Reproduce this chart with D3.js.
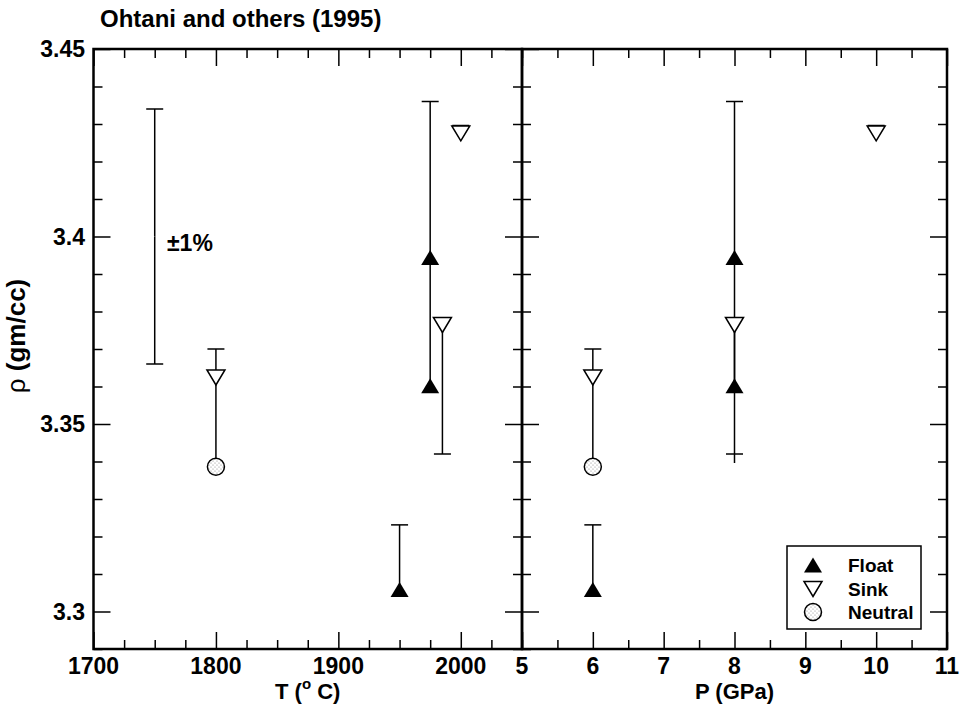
<!DOCTYPE html>
<html>
<head>
<meta charset="utf-8">
<script src="https://cdn.jsdelivr.net/npm/d3@7"></script>
<style>
  body { margin: 0; background: #fff; }
  text { font-family: "Liberation Sans", Arial, Helvetica, sans-serif; font-weight: bold; fill: #000; }
</style>
</head>
<body>
<svg id="chart" width="968" height="714"></svg>
<script>
// ---- data ----
const tTicks = [1700, 1800, 1900, 2000];
const pTicks = [5, 6, 7, 8, 9, 10, 11];
const rhoTicks = [3.3, 3.35, 3.4, 3.45];

const floatT = [1950, 1975, 1975];
const floatP = [6, 8, 8];
const floatRho = [3.3059, 3.3944, 3.3602];

const sinkT = [1800, 1985, 2000];
const sinkP = [6, 8, 10];
const sinkRho = [3.3624, 3.3764, 3.4275];

const neutralT = [1800];
const neutralP = [6];
const neutralRho = [3.3386];

// error bars, drawn from -> to, with a cap at the "to" end when capped
const barT = [1800, 1950, 1975, 1985, 2000];
const barTFrom = [3.3386, 3.3059, 3.3602, 3.3764, 3.4262];
const barTTo = [3.37, 3.3231, 3.436, 3.342, 3.4296];
const barTCap = [true, true, true, true, true];

const barP = [6, 6, 8, 8, 8, 10];
const barPFrom = [3.3386, 3.3059, 3.3602, 3.3764, 3.342, 3.4262];
const barPTo = [3.37, 3.3231, 3.436, 3.342, 3.3396, 3.4296];
const barPCap = [true, true, true, true, false, true];

// +-1% reference bar
const refT = 1750, refRho = 3.4, refPct = 0.01;

const legendLabels = ['Float', 'Sink', 'Neutral'];

// ---- layout ----
const svg = d3.select('#chart');
const yTop = 49, yBottom = 649, xLeft = 93.5, xMid = 522, xRight = 947;
const majorLen = 17, minorLen = 9;

const xT = d3.scaleLinear().domain([1700, 2050]).range([xLeft, xMid]);
const xP = d3.scaleLinear().domain([5, 11]).range([xMid, xRight]);
const y = d3.scaleLinear().domain([3.29, 3.45]).range([yBottom, yTop]);

const defs = svg.append('defs');
const pat = defs.append('pattern').attr('id', 'dots')
  .attr('width', 4).attr('height', 4).attr('patternUnits', 'userSpaceOnUse');
pat.append('rect').attr('width', 4).attr('height', 4).attr('fill', '#fff');
pat.append('circle').attr('cx', 1).attr('cy', 1).attr('r', 0.6).attr('fill', '#888');
pat.append('circle').attr('cx', 3).attr('cy', 3).attr('r', 0.6).attr('fill', '#888');

const minorRho = d3.range(3.29, 3.4501, 0.01).map(v => +v.toFixed(2)).filter(v => rhoTicks.indexOf(v) < 0);
const minorT = d3.range(1700, 2051, 25).filter(v => v % 100 !== 0);
const minorP = d3.range(5, 11.01, 0.5).filter(v => v % 1 !== 0);

function ticks(axisFn, scale, vals, len, transform) {
  const g = svg.append('g').attr('transform', transform)
    .call(axisFn(scale).tickValues(vals).tickSize(len).tickFormat(''));
  g.select('.domain').remove();
  g.selectAll('line').attr('stroke', '#000').attr('stroke-width', 1.5);
  return g;
}

function panel(x, xMajor, xMinor, x0, x1) {
  // bottom / top ticks (inward)
  ticks(d3.axisBottom, x, xMajor, -majorLen, `translate(0,${yBottom})`);
  ticks(d3.axisBottom, x, xMinor, -minorLen, `translate(0,${yBottom})`);
  ticks(d3.axisTop, x, xMajor, -majorLen, `translate(0,${yTop})`);
  ticks(d3.axisTop, x, xMinor, -minorLen, `translate(0,${yTop})`);
  // left / right ticks (inward)
  ticks(d3.axisLeft, y, rhoTicks, -majorLen, `translate(${x0},0)`);
  ticks(d3.axisLeft, y, minorRho, -minorLen, `translate(${x0},0)`);
  ticks(d3.axisRight, y, rhoTicks, -majorLen, `translate(${x1},0)`);
  ticks(d3.axisRight, y, minorRho, -minorLen, `translate(${x1},0)`);
  // frame
  svg.append('rect').attr('x', x0).attr('y', yTop)
    .attr('width', x1 - x0).attr('height', yBottom - yTop)
    .attr('fill', 'none').attr('stroke', '#000').attr('stroke-width', 2.5);
  // tick labels
  svg.append('g').selectAll('text').data(xMajor).join('text')
    .attr('x', d => x(d)).attr('y', 674)
    .attr('text-anchor', 'middle').attr('font-size', 23)
    .text(d => d);
}

panel(xT, tTicks, minorT, xLeft, xMid);
panel(xP, pTicks, minorP, xMid, xRight);

// y tick labels
svg.append('g').selectAll('text').data(rhoTicks).join('text')
  .attr('x', 85).attr('y', d => y(d) + 8)
  .attr('text-anchor', 'end').attr('font-size', 23)
  .text(d => d3.format('')(d));

// title and axis titles
svg.append('text').attr('x', 100).attr('y', 27).attr('font-size', 24)
  .text('Ohtani and others (1995)');

const tTitle = svg.append('text').attr('x', (xLeft + xMid) / 2).attr('y', 699)
  .attr('text-anchor', 'middle').attr('font-size', 22);
tTitle.append('tspan').text('T (');
tTitle.append('tspan').attr('font-size', 15).attr('dy', -10).text('o');
tTitle.append('tspan').attr('dy', 10).text(' C)');

svg.append('text').attr('x', (xMid + xRight) / 2).attr('y', 699)
  .attr('text-anchor', 'middle').attr('font-size', 22)
  .text('P (GPa)');

const yTitle = svg.append('text')
  .attr('transform', 'translate(25,336) rotate(-90)')
  .attr('text-anchor', 'middle').attr('font-size', 26);
yTitle.append('tspan').attr('font-weight', 'normal').text('\u03c1');
yTitle.append('tspan').text(' (gm/cc)');

// ---- marks ----
const capW = 8.5;
function bars(x, xs, from, to, caps) {
  const g = svg.append('g').attr('stroke', '#000').attr('stroke-width', 1.5);
  xs.forEach((xv, i) => {
    g.append('line').attr('x1', x(xv)).attr('x2', x(xv))
      .attr('y1', y(from[i])).attr('y2', y(to[i]));
    if (caps[i]) {
      g.append('line').attr('x1', x(xv) - capW).attr('x2', x(xv) + capW)
        .attr('y1', y(to[i])).attr('y2', y(to[i]));
    }
  });
}

function tri(up) {
  const w = 9, h = 7.5;
  return up ? `M0,${-h}L${w},${h}L${-w},${h}Z` : `M0,${h}L${w},${-h}L${-w},${-h}Z`;
}

function symbols(x, fx, fy, sx, sy, nx, ny) {
  const g = svg.append('g');
  g.selectAll('.float').data(fx).join('path')
    .attr('transform', (d, i) => `translate(${x(d)},${y(fy[i])})`)
    .attr('d', tri(true)).attr('fill', '#000');
  g.selectAll('.sink').data(sx).join('path')
    .attr('transform', (d, i) => `translate(${x(d)},${y(sy[i])})`)
    .attr('d', tri(false)).attr('fill', '#fff').attr('stroke', '#000').attr('stroke-width', 1.5);
  g.selectAll('.neutral').data(nx).join('circle')
    .attr('cx', d => x(d)).attr('cy', (d, i) => y(ny[i])).attr('r', 8.5)
    .attr('fill', 'url(#dots)').attr('stroke', '#000').attr('stroke-width', 1.5);
}

// reference +-1% bar
const refLo = refRho * (1 - refPct), refHi = refRho * (1 + refPct);
bars(xT, [refT, refT], [refRho, refRho], [refLo, refHi], [true, true]);
svg.append('text').attr('x', 167).attr('y', 251).attr('font-size', 23).text('\u00b11%');

bars(xT, barT, barTFrom, barTTo, barTCap);
bars(xP, barP, barPFrom, barPTo, barPCap);
symbols(xT, floatT, floatRho, sinkT, sinkRho, neutralT, neutralRho);
symbols(xP, floatP, floatRho, sinkP, sinkRho, neutralP, neutralRho);

// ---- legend ----
const lg = svg.append('g');
lg.append('rect').attr('x', 787).attr('y', 546).attr('width', 134).attr('height', 83)
  .attr('fill', '#fff').attr('stroke', '#000').attr('stroke-width', 1.5);
const rowY = [565, 589, 612];
lg.append('path').attr('transform', `translate(813,${rowY[0]})`).attr('d', tri(true)).attr('fill', '#000');
lg.append('path').attr('transform', `translate(813,${rowY[1]})`).attr('d', tri(false))
  .attr('fill', '#fff').attr('stroke', '#000').attr('stroke-width', 1.5);
lg.append('circle').attr('cx', 813).attr('cy', rowY[2]).attr('r', 8.5)
  .attr('fill', 'url(#dots)').attr('stroke', '#000').attr('stroke-width', 1.5);
lg.selectAll('.lab').data(legendLabels).join('text')
  .attr('x', 848).attr('y', (d, i) => rowY[i] + 7).attr('font-size', 19)
  .text(d => d);
</script>
</body>
</html>
